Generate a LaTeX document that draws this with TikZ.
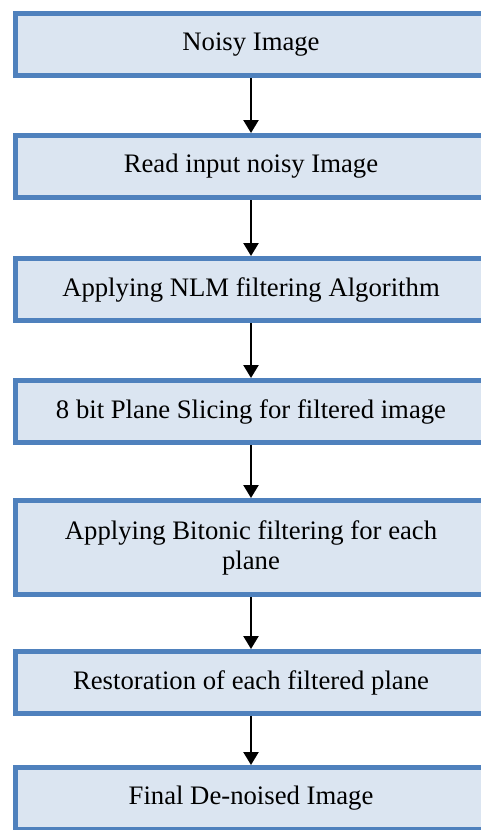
\documentclass[tikz,border=0pt]{standalone}
\usepackage{fontspec}
\setmainfont{Liberation Serif}
\usetikzlibrary{positioning,arrows.meta}
\definecolor{boxblue}{HTML}{4F81BD}
\definecolor{boxfill}{HTML}{DBE5F1}
\tikzset{
    block/.style = {draw=boxblue, fill=boxfill, line width=2.5pt, rectangle,
        minimum height=31pt,
        minimum width=235.5pt, inner sep=0pt, align=center,
        font=\fontsize{13.35}{15}\selectfont},
    arrow/.style = {draw, line width=1.2pt, -{Triangle[width=7.5pt,length=6.5pt]}}
}
\begin{document}
\begin{tikzpicture}
    \useasboundingbox (0,0) rectangle (240.5pt,-415pt);
    \node [block] (noisy) at (125.5pt,-22.25pt) {Noisy Image};
    \node [block, below=27.5pt of noisy] (read) {Read input noisy Image};
    \node [block, below=28pt of read] (nlm) {Applying NLM filtering Algorithm};
    \node [block, below=27.5pt of nlm] (slice) {8 bit Plane Slicing for filtered image};
    \node [block, below=26.5pt of slice, minimum height=47pt] (bitonic) {Applying Bitonic filtering for each\\plane};
    \node [block, below=26pt of bitonic] (restore) {Restoration of each filtered plane};
    \node [block, below=24.5pt of restore] (final) {Final De-noised Image};
    \draw [arrow] (noisy) -- (read);
    \draw [arrow] (read) -- (nlm);
    \draw [arrow] (nlm) -- (slice);
    \draw [arrow] (slice) -- (bitonic);
    \draw [arrow] (bitonic) -- (restore);
    \draw [arrow] (restore) -- (final);
\end{tikzpicture}
\end{document}
